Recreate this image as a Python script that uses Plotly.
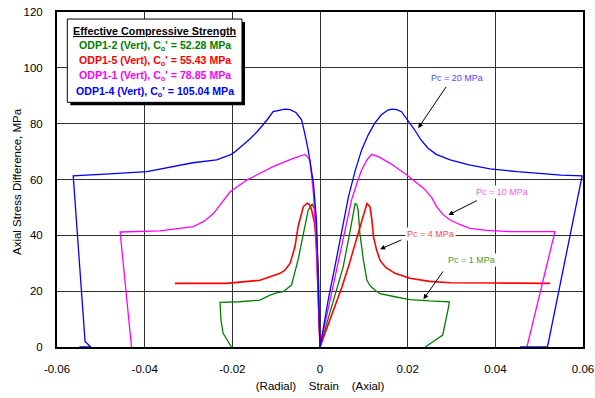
import plotly.graph_objects as go

# ---------------- data ----------------
# ODP1-2 (Pc = 1 MPa)
g_ax_strain = [0, 0.0025, 0.0053, 0.0068, 0.0080, 0.0084, 0.0087, 0.0091, 0.0099, 0.0107, 0.0114, 0.0125,
               0.0137, 0.0171, 0.0205, 0.0250, 0.0295, 0.0292, 0.0280, 0.0240]
g_ax_stress = [0, 14, 28.8, 41, 51.4, 51, 49, 40.7, 31.2, 24, 22, 20.4,
               19.1, 18, 17, 16.5, 16.2, 13.3, 4.3, 0]
g_rad_strain = [0, -0.0004, -0.0011, -0.0018, -0.0027, -0.0038, -0.0050, -0.0065, -0.0084, -0.0099, -0.0114,
                -0.0137, -0.0183, -0.0228, -0.0226, -0.0221, -0.0202]
g_rad_stress = [0, 28.8, 49, 51.1, 49, 40.7, 31.2, 22.2, 19.8, 19.4, 18.6,
                16.8, 16.2, 16, 9.7, 4.9, 0]

# ODP1-5 (Pc = 4 MPa)
r_ax_strain = [0, 0.0034, 0.0050, 0.0065, 0.0087, 0.0100, 0.0107, 0.0114, 0.0118, 0.0122, 0.0129, 0.0137,
               0.0150, 0.0171, 0.0205, 0.0250, 0.0297, 0.0400, 0.0525]
r_ax_stress = [0, 14.4, 21.5, 28.8, 40.7, 48.5, 51.4, 50.3, 46, 39.5, 34.8, 31,
               28.5, 26.4, 24.6, 23.5, 23, 22.9, 22.8]
r_rad_strain = [0, -0.0004, -0.00075, -0.0012, -0.0019, -0.0024, -0.0029, -0.0038, -0.0050, -0.0057, -0.0068,
                -0.0080, -0.0091, -0.0114, -0.0137, -0.0213, -0.0331]
r_rad_stress = [0, 18, 34.8, 44, 49, 51, 51.5, 50.3, 43.1, 36, 30,
                27.5, 26.4, 25.2, 23.9, 22.8, 22.8]

# ODP1-1 (Pc = 10 MPa)
m_ax_strain = [0, 0.0020, 0.0040, 0.0056, 0.0072, 0.0085, 0.0095, 0.0107, 0.0118, 0.0133, 0.0160, 0.0198,
               0.0236, 0.0255, 0.0266, 0.0280, 0.0297, 0.0320, 0.0342, 0.0380, 0.0433, 0.0536, 0.0472]
m_ax_stress = [0, 14.5, 28.8, 41, 52.7, 59, 63.4, 67, 69, 68.2, 65.8, 61.6,
               56.9, 53.5, 50.3, 47.5, 45.5, 43.8, 42.5, 41.8, 41.3, 41.3, 0]
m_rad_strain = [0, -0.0004, -0.0010, -0.0015, -0.0023, -0.0034, -0.0061, -0.0107, -0.0167, -0.0205, -0.0220,
                -0.0243, -0.0265, -0.0289, -0.0365, -0.0456, -0.0430]
m_rad_stress = [0, 20, 42, 55, 67, 69, 67.6, 64.6, 59.8, 55.6, 52.6,
                47.8, 45, 43.1, 41.6, 41.2, 0]

# ODP1-4 (Pc = 20 MPa)
b_ax_strain = [0, 0.0010, 0.0020, 0.0034, 0.0050, 0.0065, 0.0080, 0.0095, 0.0110, 0.0125, 0.0140, 0.0155,
               0.0164, 0.0175, 0.0186, 0.0200, 0.0215, 0.0230, 0.0246, 0.0265, 0.0297, 0.0340, 0.0388,
               0.0450, 0.0500, 0.0550, 0.0598, 0.0523, 0.0519, 0.0456]
b_ax_stress = [0, 9, 18, 28.8, 41.5, 53.9, 63, 70.6, 76, 80.2, 83.2, 84.9,
               85.2, 85, 84.3, 81.4, 78, 74.3, 71.3, 69, 67, 65.2, 63.8,
               62.8, 62.1, 61.6, 61.3, 2, 0, 0]
b_rad_strain = [0, -0.0002, -0.0004, -0.0008, -0.0015, -0.0021, -0.0027, -0.0034, -0.0042, -0.0055, -0.0068,
                -0.0080, -0.0095, -0.0107, -0.0120, -0.0130, -0.0144, -0.0160, -0.0179, -0.0195, -0.0205,
                -0.0236, -0.0290, -0.0340, -0.0395, -0.0480, -0.0563, -0.0536, -0.0523, -0.0549]
b_rad_stress = [0, 14, 28.8, 45, 58.7, 65, 70.6, 76, 81.4, 84, 85,
                85.2, 84.8, 84.3, 81.5, 79.6, 77, 74.5, 71.8, 69.8, 68.8,
                67, 66, 64.5, 62.8, 62, 61.3, 2, 0, 0]

series_names = ["ODP1-2 (Vert)", "ODP1-5 (Vert)", "ODP1-1 (Vert)", "ODP1-4 (Vert)"]
series_co = ["52.28", "55.43", "78.85", "105.04"]
series_colors = ["#008000", "#ff0000", "#ff00ff", "#0000ff"]

x_tick_vals = [-0.06, -0.04, -0.02, 0, 0.02, 0.04, 0.06]
x_tick_text = ["-0.06", "-0.04", "-0.02", "0", "0.02", "0.04", "0.06"]
y_tick_vals = [0, 20, 40, 60, 80, 100, 120]

pc_labels = ["Pc = 20 MPa", "Pc = 10 MPa", "Pc = 4 MPa", "Pc = 1 MPa"]
pc_text_xy = [(0.0313, 96.3), (0.0415, 55.7), (0.0251, 40.5), (0.0346, 31.2)]
pc_tail_xy = [(0.0290, 93.7), (0.0361, 52.7), (0.0189, 38.6), (0.0283, 27.6)]
pc_tip_xy = [(0.0224, 78.4), (0.0293, 47.3), (0.0137, 35.0), (0.0236, 17.1)]
pc_colors = ["#4848ff", "#ff55ff", "#ff4b4b", "#3c9a3c"]

FONT = "Arial, Liberation Sans, sans-serif"

# ---------------- figure ----------------
fig = go.Figure()
curves = [
    (g_ax_strain, g_ax_stress, g_rad_strain, g_rad_stress),
    (r_ax_strain, r_ax_stress, r_rad_strain, r_rad_stress),
    (m_ax_strain, m_ax_stress, m_rad_strain, m_rad_stress),
    (b_ax_strain, b_ax_stress, b_rad_strain, b_rad_stress),
]
for (axs, axy, rds, rdy), col, nm in zip(curves, series_colors, series_names):
    w = 1.6 if col == "#ff0000" else 1.3
    fig.add_trace(go.Scatter(x=axs, y=axy, mode="lines", line=dict(color=col, width=w),
                             name=nm, showlegend=False, hoverinfo="skip"))
    fig.add_trace(go.Scatter(x=rds, y=rdy, mode="lines", line=dict(color=col, width=w),
                             name=nm, showlegend=False, hoverinfo="skip"))

# legend box (shadow + box)
fig.add_shape(type="rect", xref="paper", yref="paper", x0=0.0253, x1=0.3574, y0=0.7215, y1=0.970,
              fillcolor="black", line=dict(width=0), layer="above")
fig.add_shape(type="rect", xref="paper", yref="paper", x0=0.0196, x1=0.3517, y0=0.7304, y1=0.979,
              fillcolor="white", line=dict(color="black", width=1), layer="above")

box_cx = 0.186
fig.add_annotation(xref="paper", yref="paper", x=box_cx, y=(347 - 30.7) / 335,
                   text="<b>Effective Compressive Strength</b>", showarrow=False,
                   font=dict(family=FONT, size=10.8, color="black", lineposition="under"),
                   xanchor="center", yanchor="middle")
line_py = [45.6, 61.0, 76.3, 91.7]
for nm, co, col, py in zip(series_names, series_co, series_colors, line_py):
    fig.add_annotation(xref="paper", yref="paper", x=box_cx, y=(347 - py) / 335,
                       text=f"<b>{nm}, C<sub>o</sub>' = {co} MPa</b>", showarrow=False,
                       font=dict(family=FONT, size=10.6, color=col),
                       xanchor="center", yanchor="middle")

# Pc annotations
for lab, (tx, ty), (ax, ay), (px, py), col in zip(pc_labels, pc_text_xy, pc_tail_xy, pc_tip_xy, pc_colors):
    fig.add_annotation(x=px, y=py, ax=ax, ay=ay, xref="x", yref="y", axref="x", ayref="y",
                       text="", showarrow=True, arrowhead=2, arrowsize=1, arrowwidth=1,
                       arrowcolor="black", standoff=0, startstandoff=0)
    fig.add_annotation(x=tx, y=ty, xref="x", yref="y", text=lab, showarrow=False,
                       font=dict(family=FONT, size=9, color=col), bgcolor="white",
                       borderpad=1, xanchor="center", yanchor="middle")

# y-axis title (placed as rotated text)
fig.add_annotation(xref="paper", yref="paper", x=(17 - 57) / 526, y=(347 - 182) / 335,
                   text="Axial Stress Difference, MPa", textangle=-90, showarrow=False,
                   font=dict(family=FONT, size=11.5, color="black"),
                   xanchor="center", yanchor="middle")

fig.update_layout(
    width=595, height=398,
    margin=dict(l=57, r=12, t=12, b=51, autoexpand=False),
    paper_bgcolor="white", plot_bgcolor="white",
    font=dict(family=FONT, size=11.5, color="black"),
    showlegend=False,
)
fig.update_xaxes(range=[-0.06, 0.06], tickvals=x_tick_vals, ticktext=x_tick_text,
                 showgrid=True, gridcolor="#303030", gridwidth=1, zeroline=False,
                 showline=True, linecolor="black", linewidth=2, mirror=True, automargin=False,
                 ticks="", ticklabelstandoff=10, tickfont=dict(size=11.5),
                 title=dict(text="(Radial)    Strain    (Axial)", font=dict(size=11.5), standoff=8))
fig.update_yaxes(range=[0, 120], tickvals=y_tick_vals,
                 showgrid=True, gridcolor="#303030", gridwidth=1, zeroline=False,
                 showline=True, linecolor="black", linewidth=2, mirror=True, automargin=False,
                 ticks="", ticklabelstandoff=10, tickfont=dict(size=11.5))

# remove the page's default body margin so the 595x398 figure fills the window exactly
fig.write_html("out.html", config={"displayModeBar": False},
               post_script="document.body.style.margin='0';")
